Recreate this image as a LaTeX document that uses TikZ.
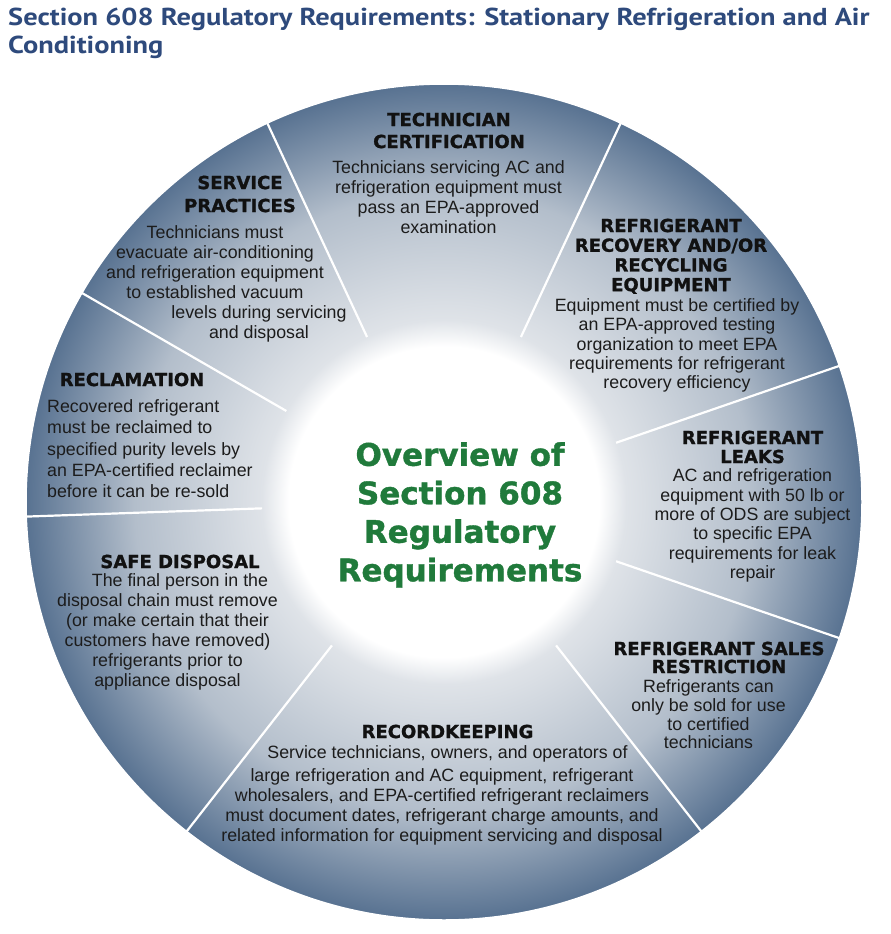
\documentclass[tikz,border=0pt]{standalone}
\usepackage{fontspec}
\setmainfont{Liberation Sans}
\newfontfamily\headfont{DejaVu Sans}[BoldFeatures={FakeBold=1.2}]
\newfontfamily\titlefont{PT Sans}[FakeStretch=1.16]
\usepackage{xcolor}
\definecolor{titleblue}{HTML}{2E4A7C}
\definecolor{ovgreen}{HTML}{207A3B}
\definecolor{ringin}{HTML}{DFE3E8}
\definecolor{ringmid}{HTML}{B3BECB}
\definecolor{ringout}{HTML}{587291}
\definecolor{headink}{HTML}{111111}
\definecolor{textink}{HTML}{1C1C1C}
\pgfdeclareradialshading{ringshade}{\pgfpoint{0bp}{0bp}}{color(0bp)=(white); color(9.3bp)=(white); color(10.9bp)=(ringin); color(18.5bp)=(ringmid); color(25bp)=(ringout); color(50bp)=(ringout)}

\begin{document}
\begin{tikzpicture}[x=1pt,y=1pt,
  secthead/.style={font=\headfont\bfseries\fontsize{18}{21}\selectfont,text=headink,align=center,anchor=north,inner sep=0pt},
  secttext/.style={font=\fontsize{17.8}{19.8}\selectfont,text=textink,align=center,anchor=north,inner sep=0pt},
  divider/.style={white,line width=2.2pt}]
\useasboundingbox (0,0) rectangle (891,-934);
\fill[white] (0,0) rectangle (891,-934);
% the ring
\coordinate (c) at (444,-502);
\shade[shading=ringshade] (c) circle (418pt);
\draw[white,line width=1.5pt] (c) circle (418pt);
%
\draw[divider] (c) ++(115:182pt) -- ++(115:236pt);
\draw[divider] (c) ++(65:182pt) -- ++(65:236pt);
\draw[divider] (c) ++(19:182pt) -- ++(19:236pt);
\draw[divider] (c) ++(-19:182pt) -- ++(-19:236pt);
\draw[divider] (c) ++(-52:182pt) -- ++(-52:236pt);
\draw[divider] (c) ++(-128:182pt) -- ++(-128:236pt);
\draw[divider] (c) ++(182:182pt) -- ++(182:236pt);
\draw[divider] (c) ++(150:182pt) -- ++(150:236pt);
% title
\node (title) [anchor=north west,inner sep=0pt,align=left,text=titleblue,font=\titlefont\bfseries\fontsize{24.5}{28}\selectfont] at (8,-7.5) {Section 608 Regulatory Requirements: Stationary Refrigeration and Air\\Conditioning};
% centre
\node (ov) [anchor=north,inner sep=0pt,align=center,text=ovgreen,font=\headfont\bfseries\fontsize{31}{38.5}\selectfont] at (460,-442) {Overview of\\Section 608\\Regulatory\\Requirements};
%
\node (tch) [secthead,font=\headfont\bfseries\fontsize{18}{22}\selectfont] at (449,-112.5) {TECHNICIAN\\CERTIFICATION};
\node (tcb) [secttext] at (448.5,-160.5) {Technicians servicing AC and\\refrigeration equipment must\\pass an EPA-approved\\examination};
%
\node (rrh) [secthead,font=\headfont\bfseries\fontsize{18}{19.7}\selectfont] at (671,-218.5) {REFRIGERANT\\RECOVERY AND/OR\\RECYCLING\\EQUIPMENT};
\node (rrb) [secttext,font=\fontsize{17.8}{19.3}\selectfont] at (677,-298.5) {Equipment must be certified by\\an EPA-approved testing\\organization to meet EPA\\requirements for refrigerant\\recovery efficiency};
%
\node (lkh) [secthead,font=\headfont\bfseries\fontsize{18}{19}\selectfont] at (752.5,-430.5) {REFRIGERANT\\LEAKS};
\node (lkb) [secttext,font=\fontsize{17.8}{19.4}\selectfont] at (752.5,-468.5) {AC and refrigeration\\equipment with 50 lb or\\more of ODS are subject\\to specific EPA\\requirements for leak\\repair};
%
\node (slh) [secthead,font=\headfont\bfseries\fontsize{18}{18}\selectfont] at (719,-641.5) {REFRIGERANT SALES\\RESTRICTION};
\node (slb) [secttext,font=\fontsize{17.8}{18.7}\selectfont] at (708.5,-679.5) {Refrigerants can\\only be sold for use\\to certified\\technicians};
%
\node (rkh) [secthead] at (447.5,-724.5) {RECORDKEEPING};
\node (rkb1) [secttext] at (447.5,-745.5) {Service technicians, owners, and operators of};
\node (rkb2) [secttext] at (442,-768.5) {large refrigeration and AC equipment, refrigerant\\wholesalers, and EPA-certified refrigerant reclaimers\\must document dates, refrigerant charge amounts, and\\related information for equipment servicing and disposal};
%
\node (sdh) [secthead] at (180,-554.5) {SAFE DISPOSAL};
\node (sdb1) [secttext] at (180,-573.5) {The final person in the};
\node (sdb2) [secttext,font=\fontsize{17.8}{20}\selectfont] at (167.5,-593.5) {disposal chain must remove\\(or make certain that their\\customers have removed)\\refrigerants prior to\\appliance disposal};
%
\node (rch) [secthead] at (132,-372.5) {RECLAMATION};
\node (rcb) [secttext,anchor=north west,align=left,font=\fontsize{17.8}{21.2}\selectfont] at (47,-399.5) {Recovered refrigerant\\must be reclaimed to\\specified purity levels by\\an EPA-certified reclaimer\\before it can be re-sold};
%
\node (sph) [secthead,font=\headfont\bfseries\fontsize{18}{23}\selectfont] at (240,-175.5) {SERVICE\\PRACTICES};
\node (spb1) [secttext,font=\fontsize{17.8}{20}\selectfont] at (215,-225.5) {Technicians must\\evacuate air-conditioning\\and refrigeration equipment\\to established vacuum};
\node (spb2) [secttext,font=\fontsize{17.8}{20}\selectfont] at (259,-305.5) {levels during servicing\\and disposal};
\end{tikzpicture}
\end{document}
